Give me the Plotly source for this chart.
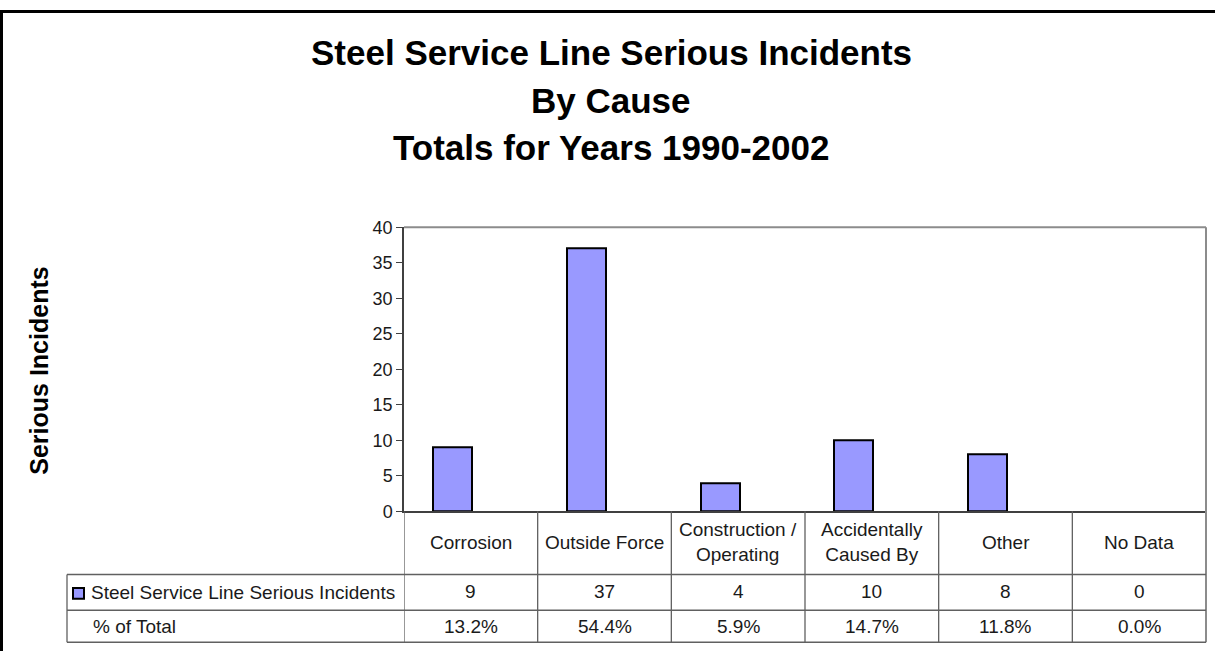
import plotly.graph_objects as go

W, H = 1215, 661

categories = ["Corrosion", "Outside Force", "Construction /<br>Operating",
              "Accidentally<br>Caused By", "Other", "No Data"]
incidents = [9, 37, 4, 10, 8, 0]
pct_total = ["13.2%", "54.4%", "5.9%", "14.7%", "11.8%", "0.0%"]
title_lines = ["Steel Service Line Serious Incidents", "By Cause", "Totals for Years 1990-2002"]
series_name = "Steel Service Line Serious Incidents"
row2_name = "% of Total"

FONT = "Liberation Sans, Arial, sans-serif"
TXT = "#1a1a1a"
GRID = "#606060"


def px(x):
    return x / W


def py(y):
    return 1 - y / H


# pixel layout of the chart
plot_l, plot_r, plot_t, plot_b = 404, 1206, 224, 517
tbl_l = 67
row_lines = [582, 619, 652]

fig = go.Figure()
fig.add_trace(go.Bar(
    x=categories, y=incidents, name=series_name,
    width=0.29, offset=-0.28,
    marker=dict(color="#9999FF",
                line=dict(color="black", width=[2 if v else 0 for v in incidents])),
    showlegend=False,
))

shapes = []
# plot area top/right border
shapes.append(dict(type="line", xref="paper", yref="paper", x0=px(plot_l), x1=px(plot_r),
                   y0=py(plot_t), y1=py(plot_t), line=dict(color="#8c8c8c", width=2)))
shapes.append(dict(type="line", xref="paper", yref="paper", x0=px(plot_r), x1=px(plot_r),
                   y0=py(plot_t), y1=py(row_lines[-1]), line=dict(color="#8c8c8c", width=2)))
# category separators in table
for i in range(len(categories)):
    shapes.append(dict(type="line", xref="x", yref="paper", x0=i - 0.5, x1=i - 0.5,
                       y0=py(plot_b), y1=py(row_lines[-1]), line=dict(color=GRID, width=1.3)))
# table rows
for y in row_lines:
    shapes.append(dict(type="line", xref="paper", yref="paper", x0=px(tbl_l), x1=px(plot_r),
                       y0=py(y), y1=py(y), line=dict(color=GRID, width=1.5)))
shapes.append(dict(type="line", xref="paper", yref="paper", x0=px(tbl_l), x1=px(tbl_l),
                   y0=py(row_lines[0]), y1=py(row_lines[-1]), line=dict(color=GRID, width=1.3)))
# legend key
shapes.append(dict(type="rect", xref="paper", yref="paper", x0=px(73), x1=px(84),
                   y0=py(607), y1=py(596), fillcolor="#9999FF", line=dict(color="black", width=2)))
# outer frame (left and top)
shapes.append(dict(type="line", xref="paper", yref="paper", x0=px(1.5), x1=px(1.5),
                   y0=0, y1=1, line=dict(color="black", width=3)))
shapes.append(dict(type="line", xref="paper", yref="paper", x0=0, x1=1,
                   y0=py(1.5), y1=py(1.5), line=dict(color="black", width=3)))

ann = []
for i, line in enumerate(title_lines):
    ann.append(dict(text=f"<b>{line}</b>", xref="paper", yref="paper", x=px(611), y=py(44 + 49 * i),
                    showarrow=False, font=dict(family=FONT, size=35, color="black"),
                    xanchor="center", yanchor="middle"))
ann.append(dict(text="<b>Serious Incidents</b>", xref="paper", yref="paper", x=px(39), y=py(372),
                textangle=-90, showarrow=False, font=dict(family=FONT, size=25, color="black"),
                xanchor="center", yanchor="middle"))

cell_font = dict(family=FONT, size=19, color=TXT)
for i, (c, v, p) in enumerate(zip(categories, incidents, pct_total)):
    ann.append(dict(text=c, xref="x", yref="paper", x=i, y=py(549), showarrow=False,
                    font=cell_font, xanchor="center", yanchor="middle"))
    ann.append(dict(text=str(v), xref="x", yref="paper", x=i, y=py(600), showarrow=False,
                    font=cell_font, xanchor="center", yanchor="middle"))
    ann.append(dict(text=p, xref="x", yref="paper", x=i, y=py(636), showarrow=False,
                    font=cell_font, xanchor="center", yanchor="middle"))
ann.append(dict(text=series_name, xref="paper", yref="paper", x=px(89), y=py(601), showarrow=False,
                font=cell_font, xanchor="left", yanchor="middle"))
ann.append(dict(text=row2_name, xref="paper", yref="paper", x=px(91), y=py(636), showarrow=False,
                font=cell_font, xanchor="left", yanchor="middle"))

fig.update_layout(
    width=W, height=H,
    margin=dict(l=0, r=0, t=0, b=0),
    paper_bgcolor="white", plot_bgcolor="white",
    xaxis=dict(domain=[px(plot_l), px(plot_r)], range=[-0.5, 5.5], showticklabels=False,
               ticks="", showgrid=False, zeroline=False, showline=True,
               linecolor="#404040", linewidth=1.5),
    yaxis=dict(domain=[py(plot_b), py(plot_t)], range=[0, 40], dtick=5, ticks="outside",
               ticklen=6, tickcolor="#404040", showgrid=False, zeroline=False,
               showline=True, linecolor="#404040", linewidth=1.5,
               tickfont=dict(family=FONT, size=18, color=TXT)),
    shapes=shapes, annotations=ann,
    bargap=0,
)

# pin the figure to the page's top-left corner so it fills the window exactly
pin = ("document.body.style.margin='0';"
       "var d=document.getElementById('{plot_id}');"
       "d.style.position='absolute';d.style.left='0px';d.style.top='0px';")
fig.write_html("out.html", post_script=pin, config={"displayModeBar": False})
